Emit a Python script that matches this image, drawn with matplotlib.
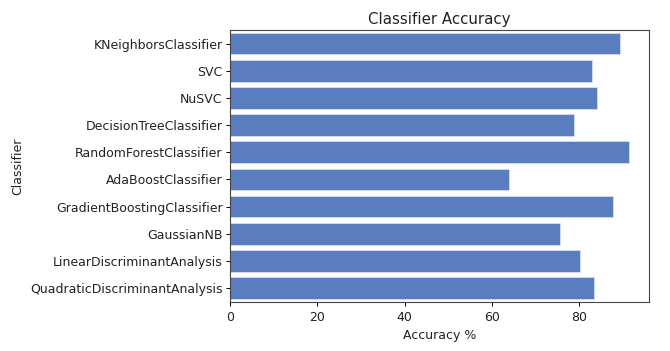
import matplotlib
matplotlib.use('Agg')
import matplotlib.pyplot as plt

classifiers = ['KNeighborsClassifier', 'SVC', 'NuSVC', 'DecisionTreeClassifier',
               'RandomForestClassifier', 'AdaBoostClassifier', 'GradientBoostingClassifier',
               'GaussianNB', 'LinearDiscriminantAnalysis', 'QuadraticDiscriminantAnalysis']
accuracy = [89.4, 83.1, 84.2, 78.9, 91.5, 63.9, 87.7, 75.6, 80.2, 83.4]

fig = plt.figure(figsize=(6.70, 3.51), dpi=100)
ax = fig.add_axes([0.3437, 0.1405, 0.625, 0.774])

# seaborn muted blue, desaturated like barplot does
ax.barh(range(len(classifiers)), accuracy, height=0.8, color='#597dbf',
        edgecolor='#dce4f2', linewidth=0.5)
ax.set_yticks(range(len(classifiers)))
ax.set_yticklabels(classifiers, fontsize=9, color='#222222')
ax.set_ylim(len(classifiers) - 0.5, -0.5)
ax.set_xlim(0, max(accuracy) * 1.05)
ax.set_xticks([0, 20, 40, 60, 80])
ax.tick_params(axis='x', labelsize=9, labelcolor='#222222', length=3, width=0.7, pad=3.5)
ax.tick_params(axis='y', length=3, width=0.7, pad=2.5)
for s in ax.spines.values():
    s.set_linewidth(0.8)
    s.set_color('#444444')

ax.set_xlabel('Accuracy %', fontsize=9, color='#222222', labelpad=3.5)
ax.set_ylabel('Classifier', fontsize=9, color='#222222', labelpad=4)
ax.set_title('Classifier Accuracy', fontsize=10.8, color='#222222', pad=4)

fig.savefig('out.png', dpi=100)
